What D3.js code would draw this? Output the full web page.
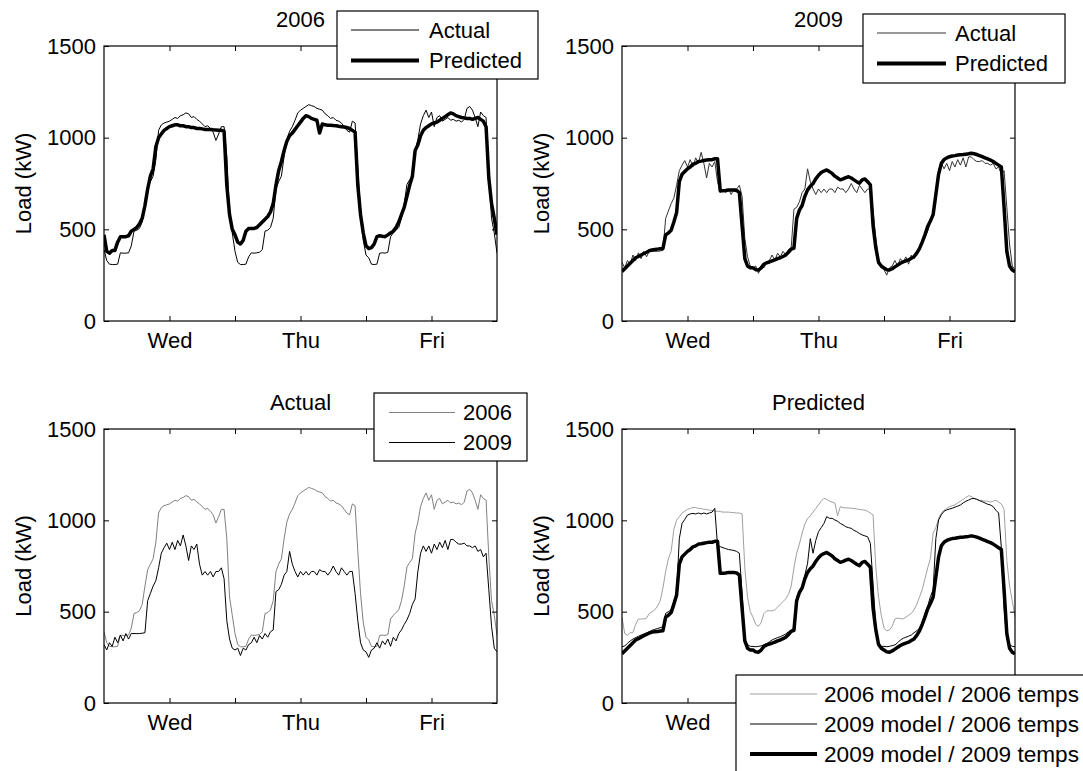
<!DOCTYPE html>
<html>
<head>
<meta charset="utf-8">
<script src="https://cdn.jsdelivr.net/npm/d3@7"></script>
<style>
  html, body { margin: 0; padding: 0; background: #fff; }
  svg { display: block; font-family: "Liberation Sans", Arial, Helvetica, sans-serif; }
</style>
</head>
<body>
<svg id="chart" width="1083" height="771"></svg>
<script>
// ---------------- data (half-hour samples, Wed 00:00 .. Sat 00:00) ----------------
const stepHours = 0.5;
const dayTicks = [12, 24, 36, 48, 60];
const dayTickLabels = ["Wed", "", "Thu", "", "Fri"];
const yTicks = [0, 500, 1000, 1500];

const actual2006 = [
  390,330,310,308,308,310,372,370,370,372,
  410,490,495,505,540,640,730,760,790,880,
  1040,1070,1080,1085,1090,1100,1110,1105,1120,1125,
  1135,1130,1110,1115,1100,1090,1075,1060,1065,1050,
  1030,985,1020,1060,1060,900,580,480,
  380,320,308,308,310,350,372,370,372,375,
  390,490,495,510,560,720,760,790,900,990,
  1035,1060,1095,1135,1150,1160,1170,1180,1175,1170,
  1160,1155,1150,1130,1120,1105,1110,1095,1090,1080,
  1060,1040,1030,1090,1080,830,600,440,
  360,345,310,308,310,370,372,370,375,460,
  480,495,510,560,640,745,770,790,930,990,
  1075,1120,1150,1110,1140,1060,1110,1120,1090,1100,
  1110,1095,1100,1090,1095,1085,1100,1160,1170,1150,
  1110,1060,1140,1120,1110,800,560,480,370
];

const predicted2006 = [
  470,380,370,385,385,430,460,460,460,465,
  490,500,510,530,560,630,720,790,830,950,
  1000,1020,1040,1050,1060,1065,1070,1070,1065,1065,
  1060,1060,1055,1055,1050,1050,1048,1045,1045,1045,
  1043,1042,1040,1040,1035,740,580,500,
  470,430,420,440,490,505,505,505,510,525,
  540,555,570,595,640,740,820,870,930,980,
  1010,1025,1045,1065,1085,1105,1120,1115,1105,1100,
  1095,1025,1075,1070,1068,1068,1066,1065,1062,1060,
  1058,1055,1050,1040,1030,740,580,480,
  410,395,400,420,460,465,462,460,470,480,
  490,510,540,580,620,680,740,790,930,960,
  1010,1040,1055,1065,1075,1080,1085,1095,1105,1115,
  1125,1135,1130,1120,1115,1110,1108,1105,1105,1100,
  1105,1110,1100,1090,1060,780,640,560,470
];

const actual2009 = [
  320,290,330,310,360,330,372,340,380,350,
  381,380,380,380,382,385,560,600,640,670,
  740,820,850,875,840,880,840,890,860,920,
  860,780,860,840,870,760,700,720,700,720,
  690,720,720,740,680,450,350,300,
  290,300,260,300,290,320,330,360,330,370,
  350,380,360,390,400,610,620,650,700,720,
  830,760,720,690,720,700,720,700,720,720,
  700,730,720,720,700,720,750,720,700,740,
  720,700,720,720,600,450,330,290,
  280,250,290,300,330,300,340,320,350,310,
  360,340,380,400,430,455,490,540,570,720,
  820,860,830,860,820,870,840,880,850,890,
  840,895,895,880,870,870,875,860,860,850,
  860,830,840,800,820,620,420,300,280
];

const predicted2009 = [
  270,285,300,315,330,345,352,360,368,375,
  383,388,390,392,394,396,470,480,495,540,
  590,760,800,815,830,840,855,860,870,872,
  875,878,880,880,885,885,710,710,712,715,
  715,715,712,700,520,340,300,290,
  290,280,278,290,310,318,322,328,333,340,
  345,352,360,375,392,398,560,605,630,680,
  715,735,750,775,795,810,818,824,815,805,
  790,780,770,775,782,787,780,770,760,752,
  770,775,760,742,520,400,320,300,
  290,280,278,285,295,305,315,322,328,333,
  342,351,370,395,430,470,515,545,580,690,
  800,860,880,890,896,900,902,905,907,908,
  910,912,915,912,908,902,896,890,884,878,
  870,860,850,840,620,380,300,278,269
];

const predicted2009Model2006Temps = [
  308,312,327,340,350,358,365,372,378,384,
  390,398,403,408,412,418,491,500,510,560,
  600,900,983,1005,1029,1035,1038,1035,1040,1035,
  1040,1035,1040,1045,1066,860,856,850,845,840,
  838,835,830,820,600,350,320,310,
  310,308,310,313,318,325,335,345,352,358,
  363,370,378,390,400,409,582,610,637,700,
  765,900,820,890,938,960,983,1020,1011,1011,
  1002,995,983,975,965,960,956,945,938,928,
  920,915,910,874,650,420,330,310,
  310,308,310,314,318,330,345,354,360,366,
  372,385,395,410,440,491,530,582,620,900,
  1002,1030,1050,1057,1062,1066,1072,1078,1084,1095,
  1105,1111,1118,1120,1115,1108,1102,1095,1088,1084,
  1075,1055,1040,850,520,350,320,310,308
];

// ---------------- layout / styles ----------------
const FONT = 22;
const panels = [
  { box: [104, 497, 46, 321], title: "2006",
    series: [
      { data: actual2006, color: "#000", width: 1, name: "Actual" },
      { data: predicted2006, color: "#000", width: 3.5, name: "Predicted" }
    ],
    legend: { x0: 337, x1: 538, y0: 11, y1: 79, lx0: 351, lx1: 419, tx: 429, rows: [30, 60.5], font: 22 } },
  { box: [622, 1015, 46, 321], title: "2009",
    series: [
      { data: actual2009, color: "#333", width: 1, name: "Actual" },
      { data: predicted2009, color: "#000", width: 3.5, name: "Predicted" }
    ],
    legend: { x0: 863, x1: 1065, y0: 14, y1: 83, lx0: 877, lx1: 946, tx: 955, rows: [33, 63.5], font: 22 } },
  { box: [104, 497, 429, 703], title: "Actual",
    series: [
      { data: actual2006, color: "#808080", width: 1, name: "2006" },
      { data: actual2009, color: "#000", width: 1, name: "2009" }
    ],
    legend: { x0: 374, x1: 527, y0: 393, y1: 461, lx0: 389, lx1: 455, tx: 463, rows: [412.5, 442.5], font: 22 } },
  { box: [622, 1015, 429, 703], title: "Predicted",
    series: [
      { data: predicted2006, color: "#a0a0a0", width: 1, name: "2006 model / 2006 temps" },
      { data: predicted2009Model2006Temps, color: "#000", width: 1, name: "2009 model / 2006 temps" },
      { data: predicted2009, color: "#000", width: 3.5, name: "2009 model / 2009 temps" }
    ],
    legend: { x0: 736, x1: 1097, y0: 675, y1: 776, lx0: 750, lx1: 817, tx: 824, rows: [694, 724, 754], font: 22.6 } }
];

const svg = d3.select("#chart");

panels.forEach((p, pi) => {
  const [L, R, T, B] = p.box;
  const x = d3.scaleLinear().domain([0, 72]).range([L, R]);
  const y = d3.scaleLinear().domain([0, 1500]).range([B, T]);
  const lgd = p.legend;
  const g = svg.append("g");

  const clipId = "clip" + pi;
  svg.append("clipPath").attr("id", clipId)
    .append("rect").attr("x", L).attr("y", T).attr("width", R - L).attr("height", B - T);

  // series
  const line = d3.line().x((d, i) => x(i * stepHours)).y(d => y(d));
  const lg = g.append("g").attr("clip-path", `url(#${clipId})`);
  p.series.forEach(s => {
    lg.append("path").datum(s.data)
      .attr("d", line)
      .attr("fill", "none")
      .attr("stroke", s.color)
      .attr("stroke-width", s.width)
      .attr("stroke-linejoin", "round")
      .attr("stroke-linecap", "butt");
  });

  // tick labels hidden behind a legend box are not drawn
  const labelY = B + 20;
  const hidden = t => lgd.y1 > labelY && lgd.y0 < labelY && x(t) + 25 > lgd.x0;

  // axes (MATLAB style: inward ticks on all four sides)
  const xb = d3.axisBottom(x).tickValues(dayTicks)
    .tickFormat((d, i) => hidden(d) ? "" : dayTickLabels[i])
    .tickSizeInner(-5).tickSizeOuter(0).tickPadding(11);
  const xt = d3.axisTop(x).tickValues(dayTicks).tickFormat("").tickSizeInner(-5).tickSizeOuter(0);
  const yl = d3.axisLeft(y).tickValues(yTicks).tickFormat(d3.format("d"))
    .tickSizeInner(-5).tickSizeOuter(0).tickPadding(8);
  const yr = d3.axisRight(y).tickValues(yTicks).tickFormat("").tickSizeInner(-5).tickSizeOuter(0);

  [
    g.append("g").attr("transform", `translate(0,${B})`).call(xb),
    g.append("g").attr("transform", `translate(0,${T})`).call(xt),
    g.append("g").attr("transform", `translate(${L},0)`).call(yl),
    g.append("g").attr("transform", `translate(${R},0)`).call(yr)
  ].forEach(a => {
    a.select(".domain").remove();
    a.selectAll("line").attr("stroke", "#000").attr("stroke-width", 1);
    a.selectAll("text").attr("font-size", FONT).attr("font-family", null).attr("fill", "#000");
    a.selectAll("text").filter(function () { return this.textContent === ""; }).remove();
  });

  g.append("rect").attr("x", L).attr("y", T).attr("width", R - L).attr("height", B - T)
    .attr("fill", "none").attr("stroke", "#000").attr("stroke-width", 1.2);

  // title
  g.append("text").attr("x", (L + R) / 2).attr("y", T - 19.5)
    .attr("text-anchor", "middle").attr("font-size", FONT).text(p.title);

  // y label
  g.append("text")
    .attr("transform", `translate(${L - 73.5},${(T + B) / 2}) rotate(-90)`)
    .attr("text-anchor", "middle").attr("font-size", FONT).text("Load (kW)");

  // legend
  const leg = svg.append("g");
  leg.append("rect").attr("x", lgd.x0).attr("y", lgd.y0)
    .attr("width", lgd.x1 - lgd.x0).attr("height", lgd.y1 - lgd.y0)
    .attr("fill", "#fff").attr("stroke", "#000").attr("stroke-width", 1.2);
  p.series.forEach((s, i) => {
    const ry = lgd.rows[i];
    leg.append("line").attr("x1", lgd.lx0).attr("x2", lgd.lx1).attr("y1", ry).attr("y2", ry)
      .attr("stroke", s.color).attr("stroke-width", s.width === 1 ? 1 : 4);
    leg.append("text").attr("x", lgd.tx).attr("y", ry).attr("dy", "0.36em")
      .attr("font-size", lgd.font).text(s.name);
  });
});
</script>
</body>
</html>
